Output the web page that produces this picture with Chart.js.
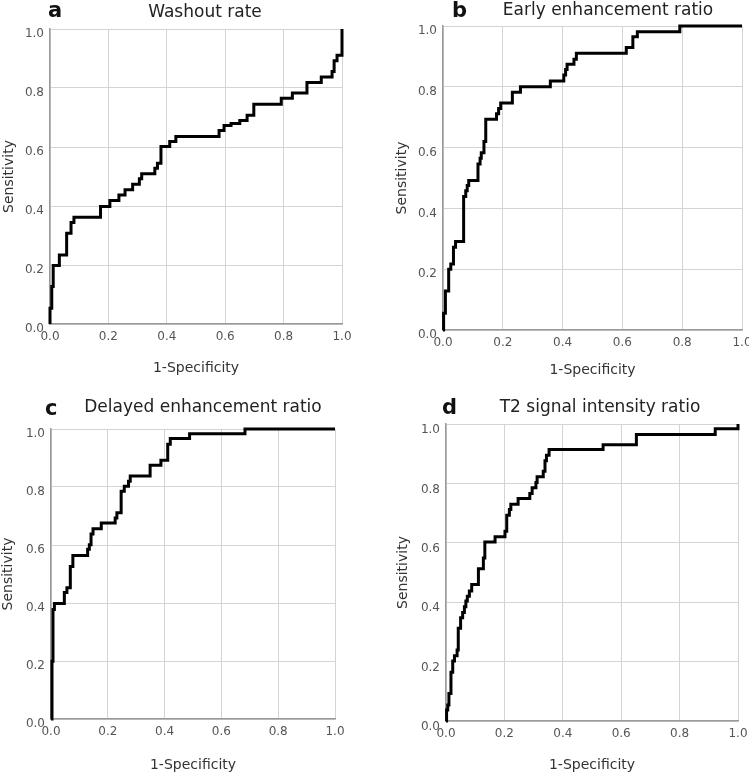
<!DOCTYPE html>
<html>
<head>
<meta charset="utf-8">
<script src="https://cdn.jsdelivr.net/npm/chart.js@4/dist/chart.umd.min.js"></script>
<style>
  body { margin: 0; background: #fff; }
  #lienzo { position: relative; width: 749px; height: 774px; }
  #lienzo canvas { position: absolute; }
</style>
</head>
<body>
<div id="lienzo"></div>
<script>
// ===============================
// DATOS
// ===============================
const letras = ["a", "b", "c", "d"];
const titulos = ["Washout rate", "Early enhancement ratio", "Delayed enhancement ratio", "T2 signal intensity ratio"];
const etiquetasTicks = ["0.0", "0.2", "0.4", "0.6", "0.8", "1.0"];
const tituloEjeX = "1-Specificity";
const tituloEjeY = "Sensitivity";

// a - Washout rate
const fprWashout = [0, 0, 0.006, 0.011, 0.032, 0.057, 0.072, 0.082, 0.173, 0.205, 0.236, 0.257, 0.283, 0.306, 0.314, 0.359, 0.368, 0.380, 0.410, 0.431, 0.579, 0.596, 0.620, 0.650, 0.675, 0.698, 0.792, 0.830, 0.880, 0.929, 0.966, 0.973, 0.983, 1.0];
const tprWashout = [0, 0.053, 0.127, 0.198, 0.234, 0.308, 0.344, 0.362, 0.398, 0.419, 0.437, 0.455, 0.474, 0.492, 0.509, 0.528, 0.545, 0.602, 0.619, 0.636, 0.656, 0.673, 0.680, 0.690, 0.708, 0.745, 0.765, 0.783, 0.819, 0.837, 0.856, 0.892, 0.911, 1.0];

// b - Early enhancement ratio
const fprEarly = [0, 0.002, 0.008, 0.019, 0.026, 0.035, 0.042, 0.069, 0.076, 0.081, 0.086, 0.117, 0.124, 0.128, 0.137, 0.143, 0.179, 0.186, 0.193, 0.232, 0.259, 0.359, 0.404, 0.410, 0.415, 0.438, 0.446, 0.613, 0.635, 0.650, 0.792, 1.0];
const tprEarly = [0, 0.055, 0.128, 0.200, 0.217, 0.272, 0.291, 0.439, 0.458, 0.475, 0.492, 0.546, 0.565, 0.583, 0.620, 0.693, 0.711, 0.729, 0.747, 0.782, 0.800, 0.819, 0.839, 0.857, 0.874, 0.891, 0.910, 0.929, 0.965, 0.981, 1.0, 1.0];

// c - Delayed enhancement ratio
const fprDelayed = [0, 0.0035, 0.007, 0.012, 0.047, 0.056, 0.068, 0.077, 0.129, 0.135, 0.141, 0.148, 0.177, 0.226, 0.232, 0.247, 0.258, 0.273, 0.279, 0.349, 0.387, 0.411, 0.420, 0.488, 0.683, 1.0];
const tprDelayed = [0, 0.199, 0.378, 0.398, 0.436, 0.453, 0.526, 0.564, 0.585, 0.601, 0.638, 0.656, 0.676, 0.693, 0.711, 0.785, 0.803, 0.820, 0.838, 0.875, 0.892, 0.947, 0.967, 0.984, 1.0, 1.0];

// d - T2 signal intensity ratio
const fprT2 = [0, 0.002, 0.006, 0.010, 0.017, 0.023, 0.029, 0.038, 0.042, 0.050, 0.057, 0.063, 0.068, 0.073, 0.080, 0.088, 0.111, 0.128, 0.133, 0.168, 0.202, 0.208, 0.217, 0.222, 0.247, 0.287, 0.295, 0.308, 0.312, 0.333, 0.339, 0.344, 0.353, 0.538, 0.652, 0.922, 1.0];
const tprT2 = [0, 0.037, 0.054, 0.093, 0.164, 0.202, 0.220, 0.239, 0.312, 0.348, 0.365, 0.385, 0.404, 0.420, 0.438, 0.460, 0.513, 0.549, 0.603, 0.620, 0.639, 0.693, 0.712, 0.730, 0.749, 0.766, 0.785, 0.803, 0.822, 0.841, 0.876, 0.895, 0.914, 0.930, 0.965, 0.984, 1.0];

const seriesX = [fprWashout, fprEarly, fprDelayed, fprT2];
const seriesY = [tprWashout, tprEarly, tprDelayed, tprT2];

// ===============================
// POSICIONES DE CADA PANEL (px de la pagina)
// ===============================
const cajas = [
  { x: 0,   y: 0,   w: 375, h: 385 },
  { x: 375, y: 0,   w: 374, h: 385 },
  { x: 0,   y: 385, w: 375, h: 389 },
  { x: 375, y: 385, w: 374, h: 389 }
];
const areas = [
  { l: 50,  t: 29,  r: 342, b: 324 },
  { l: 443, t: 26,  r: 742, b: 330 },
  { l: 51,  t: 429, r: 335, b: 719 },
  { l: 446, t: 424, r: 738, b: 721 }
];
// x del titulo Y, y del titulo X, posicion de letra y titulo
const textos = [
  { ejeY: 9,   ejeX: 368, letraX: 48,  letraY: 17,  tituloX: 205, tituloY: 17 },
  { ejeY: 402, ejeX: 370, letraX: 452, letraY: 17,  tituloX: 608, tituloY: 15 },
  { ejeY: 8,   ejeX: 765, letraX: 45,  letraY: 415, tituloX: 203, tituloY: 412 },
  { ejeY: 403, ejeX: 765, letraX: 442, letraY: 414, tituloX: 600, tituloY: 412 }
];
const desplazaEtiquetaY = [5, 5, 5, 6];

Chart.defaults.font.family = "'DejaVu Sans', Verdana, sans-serif";

// ===============================
// PLUGIN PARA LETRA Y TITULO
// ===============================
const pluginTitulo = {
  id: "tituloPanel",
  afterDraw(chart, args, opts) {
    const ctx = chart.ctx;
    ctx.save();
    ctx.textBaseline = "alphabetic";
    ctx.fillStyle = "#111";
    ctx.textAlign = "left";
    ctx.font = "bold 21px 'DejaVu Sans'";
    ctx.fillText(opts.letra, opts.letraX, opts.letraY);
    ctx.fillStyle = "#222";
    ctx.textAlign = "center";
    ctx.font = "17px 'DejaVu Sans'";
    ctx.fillText(opts.titulo, opts.tituloX, opts.tituloY);
    ctx.restore();
  }
};

// ===============================
// CREAR GRAFICOS
// ===============================
const lienzo = document.getElementById("lienzo");

function crearGrafico(i) {
  const caja = cajas[i];
  const area = areas[i];
  const txt = textos[i];

  const canvas = document.createElement("canvas");
  canvas.width = caja.w;
  canvas.height = caja.h;
  canvas.style.left = caja.x + "px";
  canvas.style.top = caja.y + "px";
  lienzo.appendChild(canvas);

  const puntos = seriesX[i].map((x, k) => ({ x: x, y: seriesY[i][k] }));

  new Chart(canvas.getContext("2d"), {
    type: "line",
    data: {
      datasets: [{
        data: puntos,
        borderColor: "#000",
        borderWidth: 3,
        pointRadius: 0,
        stepped: "before",
        fill: false,
        clip: false
      }]
    },
    options: {
      responsive: false,
      animation: false,
      events: [],
      layout: {
        padding: { left: 0, top: area.t - caja.y, right: caja.x + caja.w - area.r, bottom: 0 }
      },
      plugins: {
        legend: { display: false },
        tooltip: { enabled: false },
        tituloPanel: {
          letra: letras[i], titulo: titulos[i],
          letraX: txt.letraX - caja.x, letraY: txt.letraY - caja.y,
          tituloX: txt.tituloX - caja.x, tituloY: txt.tituloY - caja.y
        }
      },
      scales: {
        x: {
          type: "linear", min: 0, max: 1,
          ticks: {
            stepSize: 0.2, padding: 6, color: "#555", font: { size: 12 },
            maxRotation: 0,
            callback: (v, k) => etiquetasTicks[k]
          },
          grid: { color: "#d4d4d4", lineWidth: 1, drawTicks: false },
          border: { color: "#9a9a9a", width: 1.5 },
          title: {
            display: true, text: tituloEjeX, color: "#333", font: { size: 14 },
            padding: { top: 0, bottom: caja.y + caja.h - 8.4 - txt.ejeX }
          },
          afterFit: s => {
            s.height = caja.y + caja.h - area.b;
            s.paddingLeft = 0;
            s.paddingRight = 0;
          }
        },
        y: {
          type: "linear", min: 0, max: 1,
          ticks: {
            stepSize: 0.2, padding: 6, color: "#555", font: { size: 12 },
            labelOffset: desplazaEtiquetaY[i],
            callback: (v, k) => etiquetasTicks[k]
          },
          grid: { color: "#d4d4d4", lineWidth: 1, drawTicks: false },
          border: { color: "#9a9a9a", width: 1.5 },
          title: {
            display: true, text: tituloEjeY, color: "#333", font: { size: 14 },
            padding: { top: txt.ejeY - caja.x - 8.4, bottom: 0 }
          },
          afterFit: s => {
            s.width = area.l - caja.x;
            s.paddingTop = 0;
            s.paddingBottom = 0;
          }
        }
      }
    },
    plugins: [pluginTitulo]
  });
}

// ===============================
// INICIALIZAR
// ===============================
for (let i = 0; i < 4; i++) crearGrafico(i);
</script>
</body>
</html>
